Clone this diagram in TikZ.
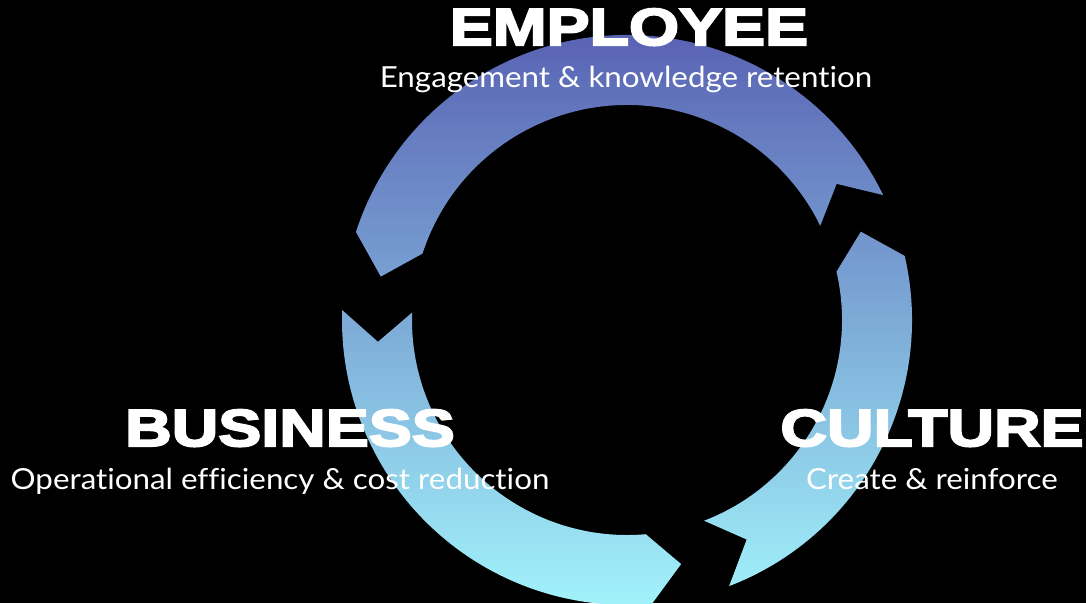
\documentclass[tikz,border=0pt]{standalone}
\usepackage{fontspec}
\newfontfamily\heavy[FakeBold=4,FakeStretch=1.24]{Liberation Sans}
\newfontfamily\subf[FakeStretch=1.08,Ligatures=NoCommon]{Lato}
\definecolor{ringtop}{HTML}{5459AF}
\definecolor{ringmid}{HTML}{7199CF}
\definecolor{ringbot}{HTML}{A2F3FB}
\tikzset{
  title/.style={text=white,font=\heavy\bfseries\fontsize{52}{52}\selectfont,anchor=base,inner sep=0pt},
  subtitle/.style={text=white,font=\subf\fontsize{29}{29}\selectfont,anchor=base,inner sep=0pt},
}
\begin{document}
\begin{tikzpicture}[x=1pt,y=1pt]
\fill[black] (0,0) rectangle (1086,-603);
\useasboundingbox (0,0) rectangle (1086,-603);
\begin{scope}[shift={(627,-320)}]
\def\Ro{285pt}\def\Ri{215pt}\def\Rm{250pt}
\shade[top color=ringtop,middle color=ringmid,bottom color=ringbot]
  % right segment (tail at 291, head at 373)
  (291:\Ro) arc[start angle=291,end angle=373,radius=\Ro]
  -- (380.7:\Rm) -- (373:\Ri)
  arc[start angle=373,end angle=291,radius=\Ri]
  -- (298.6:\Rm) -- cycle
  % top segment (tail at 26, head at 162)
  (26:\Ro) arc[start angle=26,end angle=162,radius=\Ro]
  -- (170:\Rm) -- (162:\Ri)
  arc[start angle=162,end angle=26,radius=\Ri]
  -- (33:\Rm) -- cycle
  % left segment (tail at 178, head at 275)
  (178:\Ro) arc[start angle=178,end angle=275,radius=\Ro]
  -- (282.5:\Rm) -- (275:\Ri)
  arc[start angle=275,end angle=178,radius=\Ri]
  -- (185:\Rm) -- cycle;
\end{scope}
\node[title] (emp) at (629,-45) {EMPLOYEE};
\node[subtitle] (empsub) at (626,-87) {Engagement \& knowledge retention};
\node[title] (bus) at (290,-446) {BUSINESS};
\node[subtitle] (bussub) at (280,-489) {Operational efficiency \& cost reduction};
\node[title] (cul) at (932,-446) {CULTURE};
\node[subtitle] (culsub) at (932,-489) {Create \& reinforce};
\end{tikzpicture}
\end{document}
